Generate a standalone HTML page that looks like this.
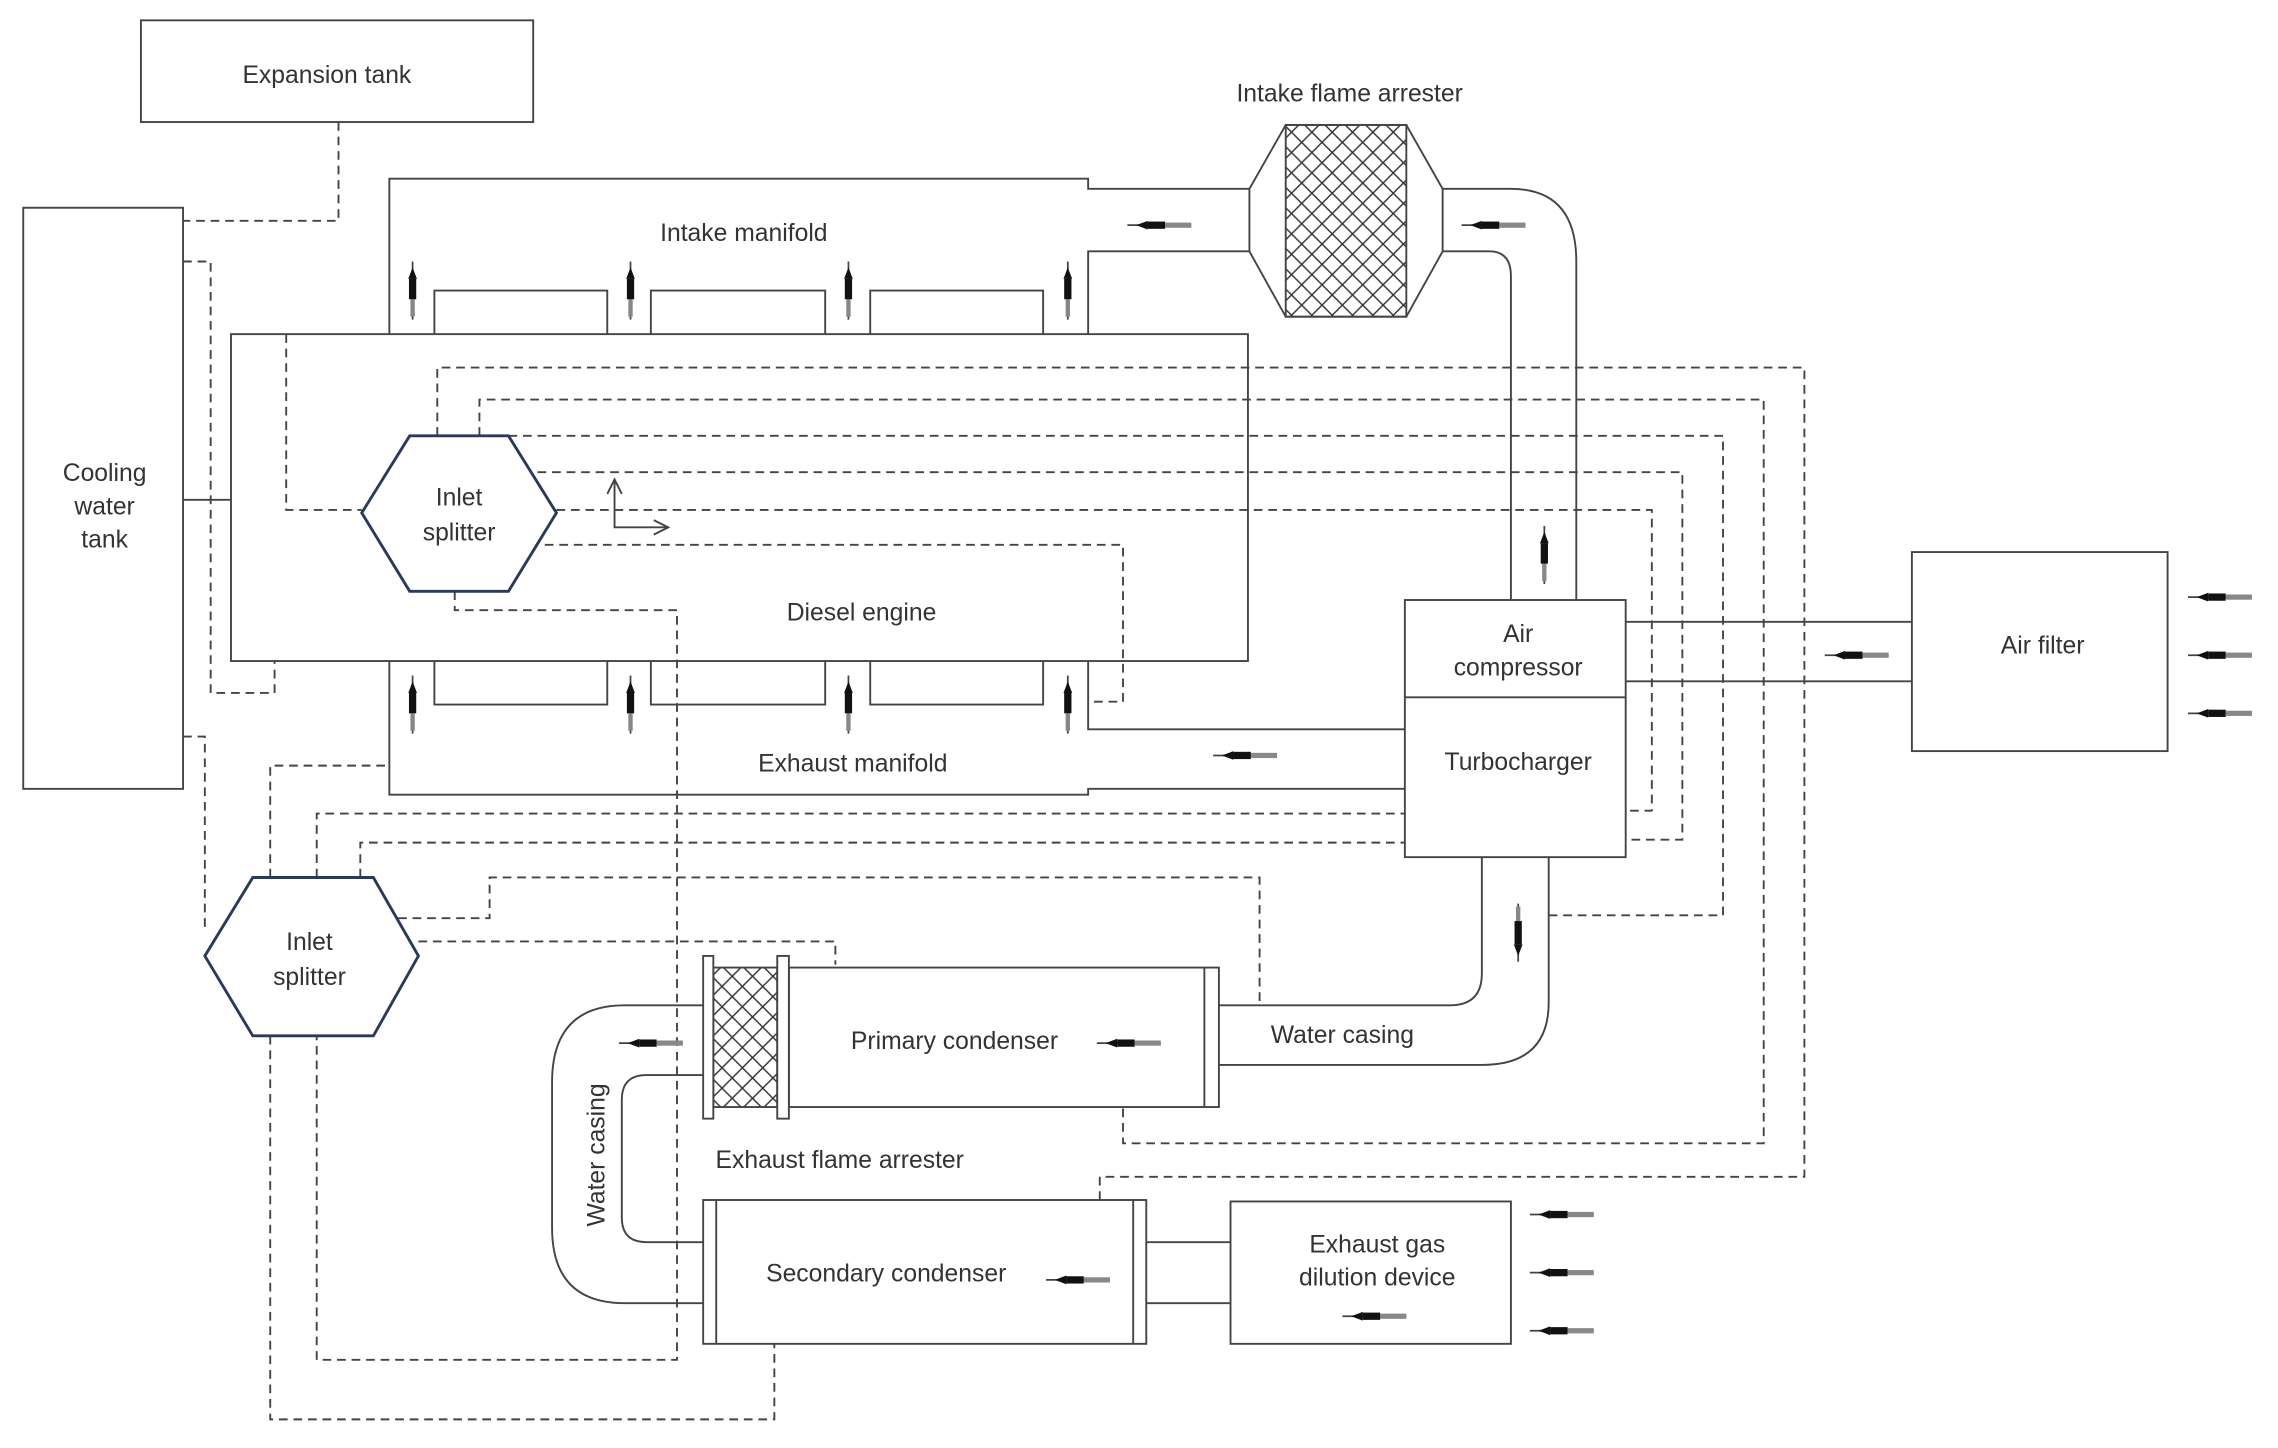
<!DOCTYPE html>
<html><head><meta charset="utf-8"><style>
html,body{margin:0;padding:0;background:#fff;}
svg{display:block;}
text{font-family:"Liberation Sans",sans-serif;fill:#333;font-size:17px;}
</style></head><body>
<svg width="2278" height="1448" viewBox="0 0 1568 996.7" preserveAspectRatio="none" xmlns="http://www.w3.org/2000/svg">
<defs>
<pattern id="hatch" width="14" height="14" patternUnits="userSpaceOnUse">
<path d="M0,0 L14,14 M14,0 L0,14" stroke="#333" stroke-width="1"/>
</pattern>
<g id="arL">
<line x1="0" y1="0" x2="44" y2="0" stroke="#444" stroke-width="1.2"/>
<polygon points="6,0 14,-3 14,3" fill="#111"/>
<rect x="14" y="-2.5" width="12" height="5" fill="#111"/>
<rect x="26" y="-1.8" width="18" height="3.6" fill="#888"/>
</g>
<g id="arU">
<line x1="0" y1="0" x2="0" y2="40" stroke="#444" stroke-width="1.2"/>
<polygon points="0,4 -3,12 3,12" fill="#111"/>
<rect x="-2.5" y="12" width="5" height="14" fill="#111"/>
<rect x="-1.5" y="26" width="3" height="12" fill="#888"/>
</g>
<g id="arD">
<line x1="0" y1="0" x2="0" y2="40" stroke="#444" stroke-width="1.2"/>
<polygon points="0,36 -3,28 3,28" fill="#111"/>
<rect x="-2.5" y="12" width="5" height="16" fill="#111"/>
<rect x="-1.5" y="2" width="3" height="10" fill="#888"/>
</g>
</defs>
<g fill="none" stroke="#444" stroke-width="1.3">
<rect x="97" y="14" width="270" height="70"/>
<rect x="16" y="143" width="110" height="400"/>
<rect x="159" y="230" width="700" height="225"/>
<path d="M268,230 V123 H749 V130 H860"/>
<path d="M749,230 V173 H860"/>
<path d="M299,230 V200 H418 V230 M448,230 V200 H568 V230 M599,230 V200 H718 V230"/>
<line x1="126" y1="344" x2="159" y2="344"/>
<path d="M860,130 L885,86 H968 L993,130 V173 L968,218 H885 L860,173 Z"/>
<rect x="885" y="86" width="83" height="132" fill="url(#hatch)"/>
<path d="M993,130 H1040 Q1085,130 1085,180 V413"/>
<path d="M993,173 H1025 Q1040,173 1040,190 V413"/>
<rect x="967" y="413" width="152" height="177"/>
<line x1="967" y1="480" x2="1119" y2="480"/>
<line x1="1119" y1="428" x2="1316" y2="428"/>
<line x1="1119" y1="469" x2="1316" y2="469"/>
<rect x="1316" y="380" width="176" height="137"/>
<path d="M299,455 V485 H418 V455 M448,455 V485 H568 V455 M599,455 V485 H718 V455"/>
<path d="M268,455 V547 H749 V543 H967"/>
<path d="M749,455 V502 H967"/>
<path d="M1020,590 V670 Q1020,692 998,692 H839"/>
<path d="M1066,590 V690 Q1066,733 1020,733 H839"/>
<rect x="543" y="666" width="296" height="96"/>
<line x1="829" y1="666" x2="829" y2="762"/>
<rect x="491" y="666" width="44" height="96" fill="url(#hatch)"/>
<rect x="484" y="658" width="7" height="112" fill="#fff"/>
<rect x="535" y="658" width="8" height="112" fill="#fff"/>
<path d="M484,692 H430 Q380,692 380,745 V845 Q380,897 430,897 H484"/>
<path d="M484,740 H445 Q428,740 428,757 V838 Q428,855 445,855 H484"/>
<rect x="484" y="826" width="305" height="99"/>
<line x1="493" y1="826" x2="493" y2="925"/>
<line x1="780" y1="826" x2="780" y2="925"/>
<line x1="789" y1="855" x2="847" y2="855"/>
<line x1="789" y1="897" x2="847" y2="897"/>
<rect x="847" y="827" width="193" height="98"/>
<path d="M423,330 V363 H460"/>
<path d="M418,340 L423,330 L428,340 M450,358 L460,363 L450,368"/>
</g>
<g fill="none" stroke="#444" stroke-width="1.3" stroke-dasharray="6,4">
<path d="M233,84 V152 H126"/>
<path d="M126,180 H145 V477 H189 V455"/>
<path d="M126,507 H141 V640"/>
<path d="M197,230 V351 H249"/>
<path d="M301,300 V253 H1242 V810 H757 V826"/>
<path d="M330,300 V275 H1214 V787 H773 V762"/>
<path d="M350,300 H1186 V630 H1066"/>
<path d="M370,325 H1158 V578 H1119"/>
<path d="M383,351 H1137 V558 H1119"/>
<path d="M375,375 H773 V483 H749"/>
<path d="M313,407 V420 H466 V936 H218 V713"/>
<path d="M186,713 V977 H533 V925"/>
<path d="M218,604 V560 H967"/>
<path d="M248,604 V580 H967"/>
<path d="M186,604 V527 H268"/>
<path d="M274,632 H337 V604 H867 V692"/>
<path d="M288,648 H575 V664"/>
</g>
<g fill="none" stroke="#2b3a5a" stroke-width="2">
<polygon points="249,353 282,300 350,300 383,353 350,407 282,407" fill="#fff"/>
<polygon points="141,658 174,604 257,604 288,658 257,713 174,713" fill="#fff"/>
</g>
<use href="#arU" x="284" y="180"/><use href="#arU" x="434" y="180"/><use href="#arU" x="584" y="180"/><use href="#arU" x="735" y="180"/>
<use href="#arU" x="284" y="465"/><use href="#arU" x="434" y="465"/><use href="#arU" x="584" y="465"/><use href="#arU" x="735" y="465"/>
<use href="#arU" x="1063" y="362"/>
<use href="#arD" x="1045" y="622"/>
<use href="#arL" x="776" y="155"/><use href="#arL" x="1006" y="155"/>
<use href="#arL" x="835" y="520"/>
<use href="#arL" x="1256" y="451"/>
<use href="#arL" x="1506" y="411"/><use href="#arL" x="1506" y="451"/><use href="#arL" x="1506" y="491"/>
<use href="#arL" x="426" y="718"/>
<use href="#arL" x="755" y="718"/>
<use href="#arL" x="720" y="881"/>
<use href="#arL" x="924" y="906"/>
<use href="#arL" x="1053" y="836"/><use href="#arL" x="1053" y="876"/><use href="#arL" x="1053" y="916"/>
<g text-anchor="middle">
<text x="225" y="57">Expansion tank</text>
<text x="72" y="331">Cooling</text><text x="72" y="354">water</text><text x="72" y="377">tank</text>
<text x="929" y="70">Intake flame arrester</text>
<text x="512" y="166">Intake manifold</text>
<text x="316" y="348">Inlet</text><text x="316" y="372">splitter</text>
<text x="593" y="427">Diesel engine</text>
<text x="1045" y="442">Air</text><text x="1045" y="465">compressor</text>
<text x="1045" y="530">Turbocharger</text>
<text x="1406" y="450">Air filter</text>
<text x="587" y="531">Exhaust manifold</text>
<text x="213" y="654">Inlet</text><text x="213" y="678">splitter</text>
<text x="657" y="722">Primary condenser</text>
<text x="924" y="718">Water casing</text>
<text x="578" y="804">Exhaust flame arrester</text>
<text x="610" y="882">Secondary condenser</text>
<text x="948" y="862">Exhaust gas</text><text x="948" y="885">dilution device</text>
<text x="0" y="0" transform="translate(416,795) rotate(-90)">Water casing</text>
</g>
</svg>
</body></html>
